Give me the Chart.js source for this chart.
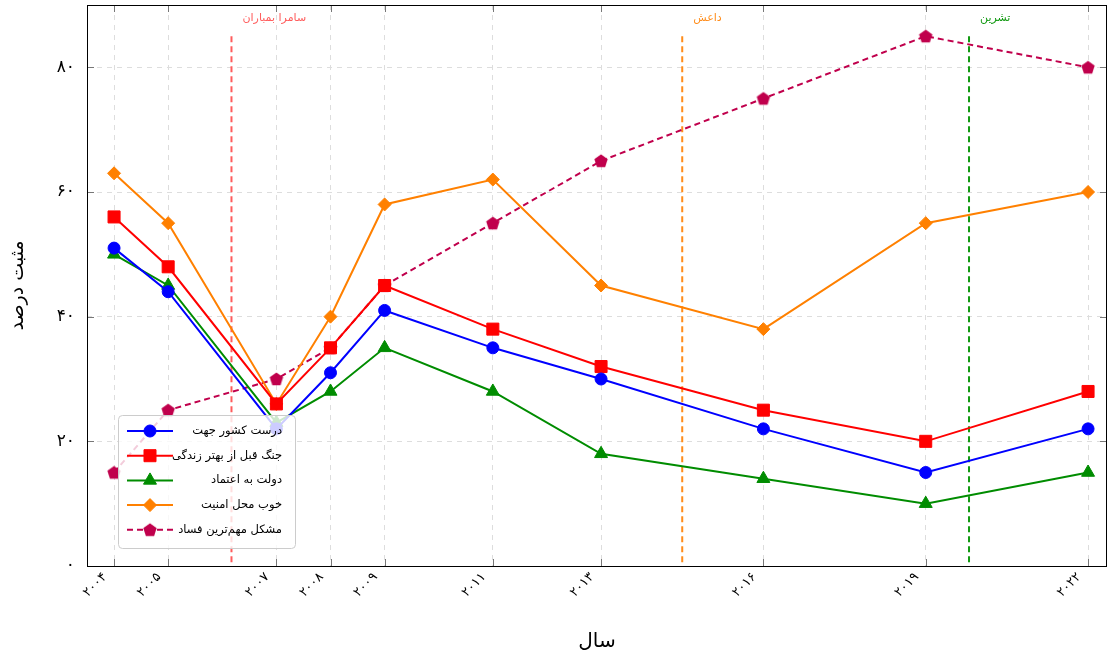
<!DOCTYPE html>
<html>
<head>
<meta charset="utf-8">
<script src="https://cdn.jsdelivr.net/npm/chart.js@4.4.0/dist/chart.umd.min.js"></script>
<style>
  html, body { margin: 0; padding: 0; background: #fff; }
  #wrap { width: 1108px; height: 654px; }
</style>
</head>
<body>
<div id="wrap"><canvas id="chart"></canvas></div>
<script>
// data
const years          = [2004, 2005, 2007, 2008, 2009, 2011, 2013, 2016, 2019, 2022];
const rightDirection = [51, 44, 22, 31, 41, 35, 30, 22, 15, 22];
const betterLife     = [56, 48, 26, 35, 45, 38, 32, 25, 20, 28];
const trustGov       = [50, 45, 23, 28, 35, 28, 18, 14, 10, 15];
const localSecurity  = [63, 55, 26, 40, 58, 62, 45, 38, 55, 60];
const corruption     = [15, 25, 30, 35, 45, 55, 65, 75, 85, 80];
const yTicks         = [0, 20, 40, 60, 80];

// strings kept in the word order the reference shows
const seriesLabels = ['درست کشور جهت', 'جنگ قبل از بهتر زندگی', 'دولت به اعتماد', 'خوب محل امنیت', 'مشکل مهم‌ترین فساد'];
const eventYears  = [2006.17, 2014.5, 2019.8];
const eventLabels = ['سامرا بمباران', 'داعش', 'تشرین'];
const eventColors = ['#ff5c5c', '#ff8c1a', '#119911'];
const eventTop = 85;

const FONT = "'DejaVu Sans', sans-serif";
const toFa = n => String(n).replace(/\d/g, d => '۰۱۲۳۴۵۶۷۸۹'[d]);
const pts = vals => years.map((x, i) => ({ x, y: vals[i] }));

// pentagon marker for the corruption series
const pent = document.createElement('canvas');
pent.width = 16; pent.height = 16;
(() => {
  const c = pent.getContext('2d');
  c.fillStyle = '#c0004c';
  c.beginPath();
  for (let i = 0; i < 5; i++) {
    const a = -Math.PI / 2 + i * 2 * Math.PI / 5;
    const px = 8 + 7 * Math.cos(a), py = 8.5 + 7 * Math.sin(a);
    i ? c.lineTo(px, py) : c.moveTo(px, py);
  }
  c.closePath();
  c.fill();
})();

const base = { borderWidth: 2, pointBorderWidth: 1, tension: 0, fill: false };
const datasets = [
  { ...base, label: seriesLabels[0], data: pts(rightDirection), borderColor: '#0000ff', backgroundColor: '#0000ff', pointStyle: 'circle', pointRadius: 6 },
  { ...base, label: seriesLabels[1], data: pts(betterLife), borderColor: '#ff0000', backgroundColor: '#ff0000', pointStyle: 'rect', pointRadius: 8.5 },
  { ...base, label: seriesLabels[2], data: pts(trustGov), borderColor: '#008c00', backgroundColor: '#008c00', pointStyle: 'triangle', pointRadius: 7.5 },
  { ...base, label: seriesLabels[3], data: pts(localSecurity), borderColor: '#ff8000', backgroundColor: '#ff8000', pointStyle: 'rectRot', pointRadius: 6.5 },
  { ...base, label: seriesLabels[4], data: pts(corruption), borderColor: '#c0004c', backgroundColor: '#c0004c', borderDash: [6, 4], pointStyle: pent, pointRadius: 8 },
];

function drawMarker(ctx, ds, x, y) {
  const r = ds.pointRadius;
  ctx.save();
  ctx.fillStyle = ds.backgroundColor;
  ctx.strokeStyle = ds.borderColor;
  ctx.lineWidth = 1;
  ctx.setLineDash([]);
  ctx.beginPath();
  if (ds.pointStyle === 'circle') {
    ctx.arc(x, y, r, 0, Math.PI * 2);
  } else if (ds.pointStyle === 'rect') {
    const s = r * Math.SQRT1_2;
    ctx.rect(x - s, y - s, 2 * s, 2 * s);
  } else if (ds.pointStyle === 'triangle') {
    ctx.moveTo(x, y - r);
    ctx.lineTo(x + r * Math.cos(Math.PI / 6), y + r / 2);
    ctx.lineTo(x - r * Math.cos(Math.PI / 6), y + r / 2);
    ctx.closePath();
  } else if (ds.pointStyle === 'rectRot') {
    ctx.moveTo(x, y - r); ctx.lineTo(x + r, y); ctx.lineTo(x, y + r); ctx.lineTo(x - r, y);
    ctx.closePath();
  } else {
    ctx.drawImage(ds.pointStyle, x - 8, y - 8);
    ctx.restore();
    return;
  }
  ctx.fill();
  ctx.stroke();
  ctx.restore();
}

const decor = {
  id: 'decor',
  beforeDatasetsDraw(chart) {
    const { ctx, chartArea: a, scales: { x, y } } = chart;
    ctx.save();
    eventYears.forEach((ev, i) => {
      const px = x.getPixelForValue(ev);
      ctx.strokeStyle = eventColors[i];
      ctx.lineWidth = 2;
      ctx.setLineDash([6, 4]);
      ctx.beginPath();
      ctx.moveTo(px, y.getPixelForValue(eventTop));
      ctx.lineTo(px, a.bottom);
      ctx.stroke();
      ctx.fillStyle = eventColors[i];
      ctx.font = `11px ${FONT}`;
      ctx.textAlign = 'left';
      ctx.textBaseline = 'middle';
      ctx.fillText(eventLabels[i], px + 11, a.top + 13);
    });
    ctx.restore();
  },
  afterDatasetsDraw(chart) {
    const { ctx, chartArea: a, scales: { x, y } } = chart;
    ctx.save();
    // inward ticks
    ctx.strokeStyle = '#777';
    ctx.lineWidth = 1;
    ctx.beginPath();
    years.forEach(v => {
      const px = Math.round(x.getPixelForValue(v)) + 0.5;
      ctx.moveTo(px, a.bottom); ctx.lineTo(px, a.bottom - 7);
      ctx.moveTo(px, a.top); ctx.lineTo(px, a.top + 7);
    });
    yTicks.forEach(v => {
      const py = Math.round(y.getPixelForValue(v)) + 0.5;
      ctx.moveTo(a.left, py); ctx.lineTo(a.left + 7, py);
      ctx.moveTo(a.right, py); ctx.lineTo(a.right - 7, py);
    });
    ctx.stroke();
    // frame
    ctx.strokeStyle = '#000';
    ctx.strokeRect(Math.round(a.left) + 0.5, Math.round(a.top) + 0.5, Math.round(a.right - a.left) - 1, Math.round(a.bottom - a.top));

    // rotated year labels
    ctx.fillStyle = '#000';
    ctx.font = `13px ${FONT}`;
    ctx.textAlign = 'right';
    ctx.textBaseline = 'middle';
    years.forEach(v => {
      const px = x.getPixelForValue(v);
      ctx.save();
      ctx.translate(px - 9, a.bottom + 9);
      ctx.rotate(-Math.PI / 4);
      ctx.fillText(toFa(v), 0, 0);
      ctx.restore();
    });

    // legend box
    const lx = a.left + 31, ly = a.bottom - 151, lw = 177, lh = 133;
    ctx.fillStyle = 'rgba(255,255,255,0.8)';
    ctx.strokeStyle = '#cccccc';
    ctx.lineWidth = 1;
    ctx.beginPath();
    ctx.roundRect(lx + 0.5, ly + 0.5, lw, lh, 4);
    ctx.fill();
    ctx.stroke();
    chart.data.datasets.forEach((ds, i) => {
      const ry = ly + 16 + i * 24.7;
      ctx.strokeStyle = ds.borderColor;
      ctx.lineWidth = 2;
      ctx.setLineDash(ds.borderDash || []);
      ctx.beginPath();
      ctx.moveTo(lx + 9, ry); ctx.lineTo(lx + 55, ry);
      ctx.stroke();
      drawMarker(ctx, ds, lx + 32, ry);
      ctx.fillStyle = '#000';
      ctx.font = `11.5px ${FONT}`;
      ctx.textAlign = 'right';
      ctx.textBaseline = 'middle';
      ctx.fillText(ds.label, lx + 164, ry);
    });
    ctx.restore();
  }
};

const noPad = s => { s.paddingTop = 0; s.paddingBottom = 0; s.paddingLeft = 0; s.paddingRight = 0; };

new Chart(document.getElementById('chart'), {
  type: 'line',
  data: { datasets },
  options: {
    responsive: true,
    maintainAspectRatio: false,
    animation: false,
    layout: { autoPadding: false, padding: { top: 5, right: 1, left: 0, bottom: 0 } },
    plugins: { legend: { display: false }, tooltip: { enabled: false } },
    scales: {
      x: {
        type: 'linear',
        min: 2003.5,
        max: 2022.35,
        afterBuildTicks: s => { s.ticks = years.map(v => ({ value: v })); },
        afterFit: s => { s.height = 88; noPad(s); },
        grid: { color: '#dddddd', drawTicks: false },
        border: { display: false, dash: [5, 5] },
        ticks: { display: false },
        title: { display: true, text: 'سال', color: '#000', font: { family: FONT, size: 20 }, padding: { top: 0, bottom: 0 } },
      },
      y: {
        min: 0,
        max: 90,
        afterBuildTicks: s => { s.ticks = yTicks.map(v => ({ value: v })); },
        afterFit: s => { s.width = 87; noPad(s); },
        grid: { color: '#dddddd', drawTicks: false },
        border: { display: false, dash: [5, 5] },
        ticks: {
          padding: 12, color: '#000', font: { family: FONT, size: 17 },
          callback: v => toFa(v),
        },
        title: { display: true, text: 'مثبت درصد', color: '#000', font: { family: FONT, size: 19 }, padding: { top: 7, bottom: 0 } },
      },
    },
  },
  plugins: [decor],
});
</script>
</body>
</html>
